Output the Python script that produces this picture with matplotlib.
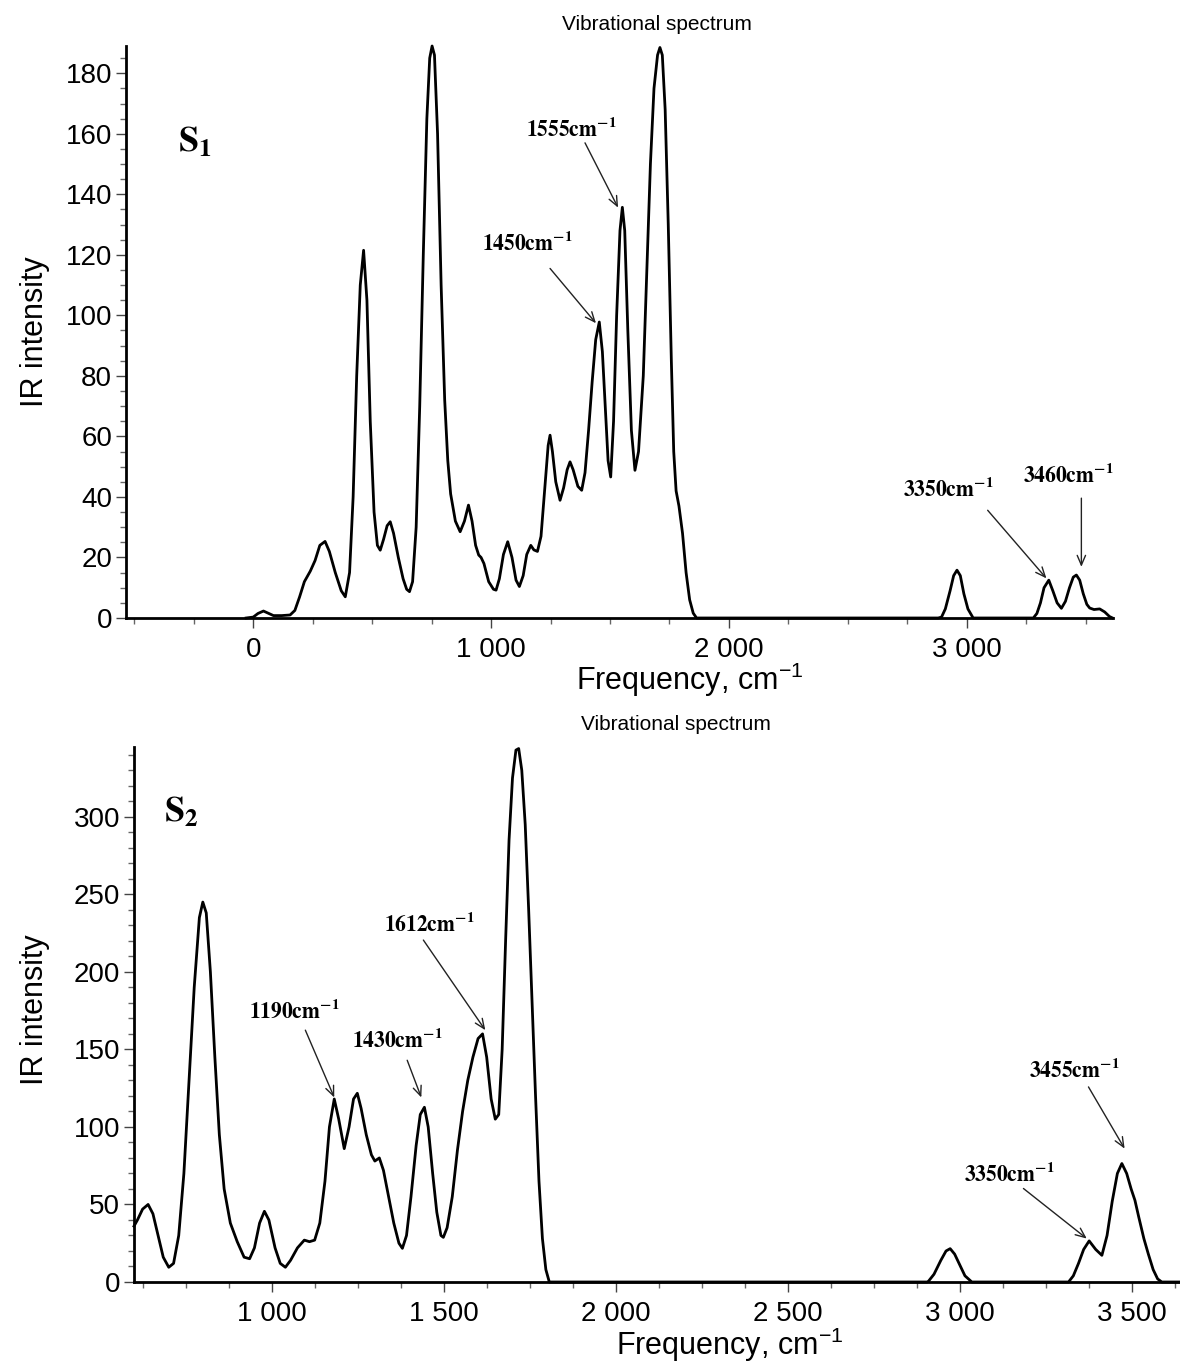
import matplotlib
matplotlib.use("Agg")
import matplotlib.pyplot as plt
from matplotlib.ticker import MultipleLocator, FuncFormatter

# ---------------- data ----------------
s1_freq = [-30, 0, 20, 43, 65, 85, 120, 155, 175, 195, 215, 240, 260, 280, 302, 320, 345, 370, 387,
           405, 420, 435, 450, 464, 478, 492, 508, 522, 534, 548, 563, 576, 590, 610, 630, 645, 657,
           670, 685, 700, 715, 730, 742, 752, 762, 775, 790, 805, 818, 830, 850, 870, 888, 905, 920,
           935, 948, 958, 970, 990, 1010, 1021, 1035, 1052, 1070, 1088, 1105, 1119, 1135, 1150, 1167,
           1180, 1195, 1210, 1225, 1240, 1248, 1258, 1272, 1290, 1305, 1320, 1332, 1345, 1365, 1381,
           1395, 1410, 1425, 1440, 1455, 1468, 1480, 1492, 1503, 1515, 1528, 1542, 1552, 1562, 1575,
           1590, 1605, 1620, 1640, 1655, 1670, 1685, 1700, 1710, 1720, 1732, 1745, 1758, 1768, 1778,
           1790, 1805, 1820, 1835, 1850, 1864, 2880, 2894, 2910, 2930, 2945, 2959, 2973, 2988, 3005,
           3027, 3280, 3295, 3310, 3325, 3345, 3362, 3380, 3398, 3415, 3432, 3448, 3461, 3475, 3490,
           3505, 3517, 3535, 3559, 3580, 3600, 3613]
s1_int = [0, 0.3, 1.5, 2.3, 1.5, 0.8, 0.8, 1.0, 2.5, 7, 12, 15.5, 19, 24, 25.3, 22, 15, 9, 7,
          15, 40, 80, 110, 121.5, 105, 65, 35, 24, 22.4, 26, 30.5, 31.8, 28, 20, 13, 9.5, 8.7,
          12, 30, 70, 120, 165, 185, 189, 186, 160, 110, 72, 52, 41, 32, 28.5, 32, 37.3, 32,
          24, 20.8, 20, 18, 12, 9.5, 9.2, 13, 21, 25.2, 20, 12.5, 10.4, 14, 21, 24,
          22.5, 22, 27, 42, 57, 60.4, 55, 45, 38.9, 43, 49, 51.6, 49, 43.5, 42.2,
          48, 62, 78, 92, 97.8, 88, 70, 52, 46.6, 65, 100, 128, 135.7, 128, 95,
          62, 48.8, 55, 80, 115, 150, 175, 186, 188.5, 186, 168, 130, 85, 55, 42,
          37, 28, 15, 6, 1.6, 0, 0, 0.3, 3, 9, 14, 15.8, 14, 8, 3,
          0, 0, 1.5, 5, 10, 12.5, 9, 5, 3.2, 5.5, 10, 13.5, 14.2, 12.5, 8,
          4.5, 3.3, 2.8, 3, 2, 0.5, 0]

s2_freq = [600, 610, 625, 641, 655, 670, 685, 701, 715, 730, 745, 760, 775, 790, 800, 810, 822, 835,
           848, 862, 880, 900, 920, 936, 950, 965, 979, 992, 1010, 1025, 1040, 1055, 1075, 1095,
           1110, 1125, 1140, 1155, 1168, 1182, 1195, 1211, 1225, 1238, 1249, 1260, 1275, 1290, 1300,
           1313, 1325, 1340, 1355, 1370, 1380, 1392, 1405, 1420, 1432, 1444, 1455, 1468, 1480, 1492,
           1499, 1510, 1525, 1540, 1555, 1570, 1585, 1600, 1613, 1625, 1638, 1650, 1660, 1670, 1680,
           1690, 1700, 1710, 1718, 1727, 1737, 1747, 1757, 1767, 1777, 1787, 1797, 1807, 2905, 2909,
           2925, 2945, 2960, 2972, 2985, 3000, 3015, 3035, 3316, 3330, 3345, 3360, 3376, 3395, 3413,
           3428, 3443, 3458, 3471, 3485, 3498, 3509, 3520, 3535, 3548, 3562, 3575, 3587, 3640]
s2_int = [36, 40, 47, 50, 44, 30, 16, 9.5, 12, 30, 70, 130, 190, 235, 245, 238, 200, 145,
          95, 60, 38, 26, 16, 15, 22, 38, 45.6, 40, 22, 12, 9.5, 14, 22, 27,
          26, 27, 38, 65, 100, 118, 105, 86, 100, 118, 121.7, 112, 95, 82, 78,
          80, 72, 55, 38, 25, 21.7, 30, 55, 88, 108, 112.7, 100, 70, 45, 30,
          28.8, 35, 55, 85, 110, 130, 145, 157, 160, 145, 118, 105, 108, 150, 220,
          285, 325, 343, 344, 330, 295, 240, 180, 120, 65, 28, 8, 0, 0, 0.5,
          5, 14, 20, 21.5, 18, 11, 4, 0, 0, 4, 12, 21, 26.5, 21, 17.2,
          30, 52, 70, 76.4, 70, 60, 52.7, 42, 28, 18, 8, 2, 0, 0]

# annotation labels and the peak points they mark
s1_labels = ["1555", "1450", "3350", "3460"]
s1_tips = [(1534, 135.6), (1441, 97.4), (3335, 13.1), (3482, 16.9)]
s2_labels = ["1190", "1430", "1612", "3350", "3455"]
s2_tips = [(1182, 119), (1435, 119), (1621, 162.4), (3369, 28), (3479, 86)]

# ---------------- style ----------------
plt.rcParams["font.family"] = ["Liberation Sans", "DejaVu Sans"]
plt.rcParams["mathtext.fontset"] = "custom"
plt.rcParams["mathtext.rm"] = "Liberation Sans"
plt.rcParams["mathtext.it"] = "Liberation Sans:italic"
plt.rcParams["mathtext.bf"] = "Liberation Sans:bold"

W, H = 1180, 1365
fig = plt.figure(figsize=(W / 100, H / 100), dpi=100)


def px_axes(l, t, r, b):
    return fig.add_axes([l / W, 1 - b / H, (r - l) / W, (b - t) / H])


def thousands(v, p):
    iv = int(round(v))
    if abs(iv) >= 1000:
        return f"{iv:,}".replace(",", " ")
    return str(iv)


def style_axes(ax):
    for s in ("top", "right"):
        ax.spines[s].set_visible(False)
    for s in ("left", "bottom"):
        ax.spines[s].set_linewidth(2.0)
    ax.tick_params(axis="both", which="major", labelsize=20, length=7, width=1.0,
                   direction="out", color="#444444")
    ax.tick_params(axis="x", which="major", pad=7)
    ax.tick_params(axis="y", which="major", pad=3)
    ax.tick_params(axis="both", which="minor", length=4, width=1.0,
                   direction="out", color="#666666")
    ax.xaxis.set_major_formatter(FuncFormatter(thousands))


ann_kw = dict(fontsize=15.5, math_fontfamily="stix", ha="center", va="center")
arrow_kw = dict(arrowstyle="->,head_length=0.7,head_width=0.3", lw=1.0, color="#222222",
                shrinkA=0, shrinkB=0)

# ---------------- top panel ----------------
ax1 = px_axes(126, 46, 1113, 618)
ax1.plot(s1_freq, s1_int, color="black", lw=2.0, solid_joinstyle="round", clip_on=False)
ax1.set_xlim(-535, 3615)
ax1.set_ylim(0, 189)
ax1.xaxis.set_major_locator(MultipleLocator(1000))
ax1.xaxis.set_minor_locator(MultipleLocator(250))
ax1.yaxis.set_major_locator(MultipleLocator(20))
ax1.yaxis.set_minor_locator(MultipleLocator(5))
style_axes(ax1)

ax1.text(-244, 157, r"$\mathbf{S_1}$", fontsize=26, math_fontfamily="stix", ha="center", va="center")
s1_text_pos = [(1336, 161.7), (1151, 124), (2924, 42.6), (3429, 47.2)]
s1_arrow_start = [(1395, 157), (1248, 115.5), (3088, 35.6), (3482, 39.6)]
for lab, tip, tp, st in zip(s1_labels, s1_tips, s1_text_pos, s1_arrow_start):
    ax1.text(tp[0], tp[1], r"$\mathbf{" + lab + r"cm^{-1}}$", **ann_kw)
    ax1.annotate("", xy=tip, xytext=st, arrowprops=arrow_kw)

# ---------------- bottom panel ----------------
ax2 = px_axes(134, 747, 1180, 1282)
ax2.plot(s2_freq, s2_int, color="black", lw=2.0, solid_joinstyle="round", clip_on=False)
ax2.set_xlim(600, 3640)
ax2.set_ylim(0, 345)
ax2.xaxis.set_major_locator(MultipleLocator(500))
ax2.xaxis.set_minor_locator(MultipleLocator(125))
ax2.yaxis.set_major_locator(MultipleLocator(50))
ax2.yaxis.set_minor_locator(MultipleLocator(10))
style_axes(ax2)

ax2.text(737, 303, r"$\mathbf{S_2}$", fontsize=26, math_fontfamily="stix", ha="center", va="center")
s2_text_pos = [(1066, 174.6), (1365, 156), (1459, 230.8), (3145, 69.8), (3333, 136.6)]
s2_arrow_start = [(1098, 162.4), (1394, 143), (1441, 220.5), (3185, 60.3), (3374, 125.8)]
for lab, tip, tp, st in zip(s2_labels, s2_tips, s2_text_pos, s2_arrow_start):
    ax2.text(tp[0], tp[1], r"$\mathbf{" + lab + r"cm^{-1}}$", **ann_kw)
    ax2.annotate("", xy=tip, xytext=st, arrowprops=arrow_kw)

# ---------------- titles and axis labels ----------------
fig.text(657 / W, 1 - 25 / H, "Vibrational spectrum", fontsize=15, ha="center", va="center")
fig.text(676 / W, 1 - 725 / H, "Vibrational spectrum", fontsize=15, ha="center", va="center")
fig.text(690 / W, 1 - 690 / H, r"Frequency, cm$^{-1}$", fontsize=22, ha="center", va="baseline")
fig.text(730 / W, 1 - 1355 / H, r"Frequency, cm$^{-1}$", fontsize=22, ha="center", va="baseline")
fig.text(35 / W, 1 - 332 / H, "IR intensity", fontsize=22, ha="center", va="center", rotation=90)
fig.text(35 / W, 1 - 1010 / H, "IR intensity", fontsize=22, ha="center", va="center", rotation=90)

fig.savefig("out.png", dpi=100, facecolor="white")
